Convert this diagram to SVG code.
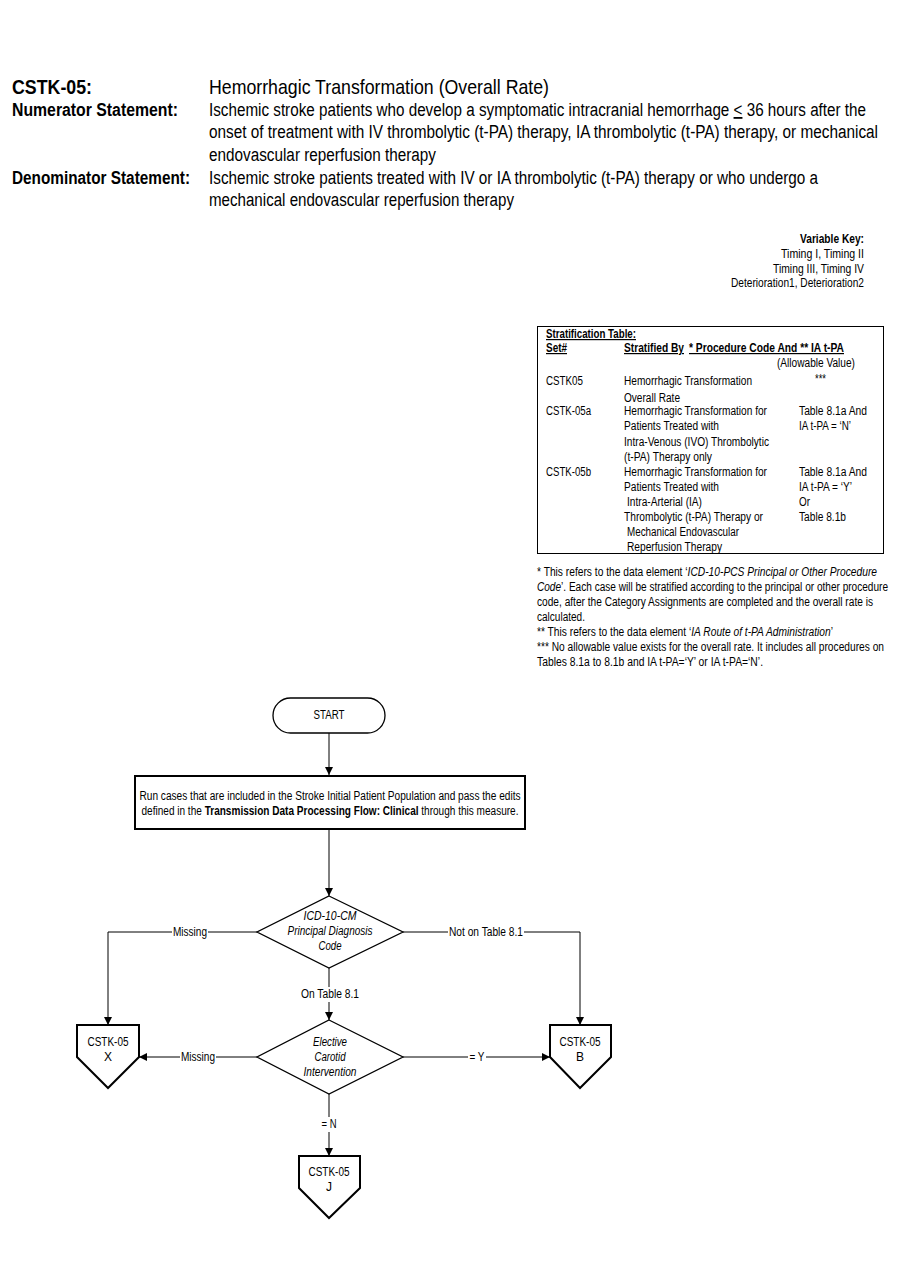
<svg xmlns="http://www.w3.org/2000/svg" width="900" height="1286" viewBox="0 0 900 1286">
<style>
text{font-family:"Liberation Sans",Arial,sans-serif;fill:#000}
.h{font-size:21px}
.hb{font-size:21px;font-weight:bold}
.s{font-size:18px}
.sb{font-size:18px;font-weight:bold}
.k{font-size:12px}
.t{font-size:12px}
.tb{font-size:12px;font-weight:bold;text-decoration:underline}
.f{font-size:12px}
.n{font-size:12px;text-anchor:middle}
.ni{font-size:12px;text-anchor:middle;font-style:italic}
.lbl{font-size:12px;text-anchor:middle}
.shape{fill:#fff;stroke:#000;stroke-width:1.3}
.thick{stroke-width:2}
.con{fill:none;stroke:#000;stroke-width:1}
</style>
<defs>
<marker id="arr" viewBox="0 0 10 10" refX="10" refY="5" markerWidth="8" markerHeight="8" markerUnits="userSpaceOnUse" orient="auto">
<path d="M0,0 L10,5 L0,10 z" fill="#000"/>
</marker>
</defs>
<rect width="900" height="1286" fill="#fff"/>

<g id="header">
<text x="12" y="94" class="hb" textLength="80" lengthAdjust="spacingAndGlyphs">CSTK-05:</text>
<text x="209" y="94" class="h" textLength="340" lengthAdjust="spacingAndGlyphs">Hemorrhagic Transformation (Overall Rate)</text>
<text x="12" y="116" class="sb" textLength="166" lengthAdjust="spacingAndGlyphs">Numerator Statement:</text>
<text x="209" y="116" class="s" textLength="657" lengthAdjust="spacingAndGlyphs">Ischemic stroke patients who develop a symptomatic intracranial hemorrhage <tspan text-decoration="underline">&lt;</tspan> 36 hours after the</text>
<text x="209" y="138" class="s" textLength="669" lengthAdjust="spacingAndGlyphs">onset of treatment with IV thrombolytic (t-PA) therapy, IA thrombolytic (t-PA) therapy, or mechanical</text>
<text x="209" y="161" class="s" textLength="227" lengthAdjust="spacingAndGlyphs">endovascular reperfusion therapy</text>
<text x="12" y="184" class="sb" textLength="178" lengthAdjust="spacingAndGlyphs">Denominator Statement:</text>
<text x="209" y="184" class="s" textLength="609" lengthAdjust="spacingAndGlyphs">Ischemic stroke patients treated with IV or IA thrombolytic (t-PA) therapy or who undergo a</text>
<text x="209" y="206" class="s" textLength="305" lengthAdjust="spacingAndGlyphs">mechanical endovascular reperfusion therapy</text>
</g>

<g id="variable-key" text-anchor="end">
<text x="864" y="243" class="k" font-weight="bold" textLength="64" lengthAdjust="spacingAndGlyphs">Variable Key:</text>
<text x="864" y="258" class="k" textLength="83" lengthAdjust="spacingAndGlyphs">Timing I,  Timing II</text>
<text x="864" y="273" class="k" textLength="91" lengthAdjust="spacingAndGlyphs">Timing III, Timing IV</text>
<text x="864" y="287" class="k" textLength="133" lengthAdjust="spacingAndGlyphs">Deterioration1, Deterioration2</text>
</g>

<g id="stratification-table">
<rect x="537.5" y="326.5" width="346" height="227" fill="#fff" stroke="#000" stroke-width="1"/>
<text x="546" y="338" class="tb" textLength="90" lengthAdjust="spacingAndGlyphs">Stratification Table:</text>
<text x="546" y="352" class="tb" textLength="21" lengthAdjust="spacingAndGlyphs">Set#</text>
<text x="624" y="352" class="tb" textLength="60" lengthAdjust="spacingAndGlyphs">Stratified By</text>
<text x="689" y="352" class="tb" textLength="155" lengthAdjust="spacingAndGlyphs">* Procedure Code And ** IA t-PA</text>
<text x="777" y="367" class="t" textLength="78" lengthAdjust="spacingAndGlyphs">(Allowable Value)</text>
<text x="546" y="385" class="t" textLength="37" lengthAdjust="spacingAndGlyphs">CSTK05</text>
<text x="624" y="385" class="t" textLength="128" lengthAdjust="spacingAndGlyphs">Hemorrhagic Transformation</text>
<text x="815" y="383" class="t" textLength="11" lengthAdjust="spacingAndGlyphs">***</text>
<text x="624" y="402" class="t" textLength="56" lengthAdjust="spacingAndGlyphs">Overall Rate</text>
<text x="546" y="415" class="t" textLength="45" lengthAdjust="spacingAndGlyphs">CSTK-05a</text>
<text x="624" y="415" class="t" textLength="143" lengthAdjust="spacingAndGlyphs">Hemorrhagic Transformation for</text>
<text x="799" y="415" class="t" textLength="68" lengthAdjust="spacingAndGlyphs">Table 8.1a And</text>
<text x="624" y="430" class="t" textLength="95" lengthAdjust="spacingAndGlyphs">Patients Treated with</text>
<text x="799" y="430" class="t" textLength="52" lengthAdjust="spacingAndGlyphs">IA t-PA = ‘N’</text>
<text x="624" y="446" class="t" textLength="145" lengthAdjust="spacingAndGlyphs">Intra-Venous (IVO) Thrombolytic</text>
<text x="624" y="461" class="t" textLength="88" lengthAdjust="spacingAndGlyphs">(t-PA) Therapy only</text>
<text x="546" y="476" class="t" textLength="45" lengthAdjust="spacingAndGlyphs">CSTK-05b</text>
<text x="624" y="476" class="t" textLength="143" lengthAdjust="spacingAndGlyphs">Hemorrhagic Transformation for</text>
<text x="799" y="476" class="t" textLength="68" lengthAdjust="spacingAndGlyphs">Table 8.1a And</text>
<text x="624" y="491" class="t" textLength="95" lengthAdjust="spacingAndGlyphs">Patients Treated with</text>
<text x="799" y="491" class="t" textLength="53" lengthAdjust="spacingAndGlyphs">IA t-PA = ‘Y’</text>
<text x="627" y="506" class="t" textLength="75" lengthAdjust="spacingAndGlyphs">Intra-Arterial (IA)</text>
<text x="799" y="506" class="t" textLength="11" lengthAdjust="spacingAndGlyphs">Or</text>
<text x="624" y="521" class="t" textLength="139" lengthAdjust="spacingAndGlyphs">Thrombolytic (t-PA) Therapy or</text>
<text x="799" y="521" class="t" textLength="47" lengthAdjust="spacingAndGlyphs">Table 8.1b</text>
<text x="627" y="536" class="t" textLength="112" lengthAdjust="spacingAndGlyphs">Mechanical Endovascular</text>
<text x="627" y="551" class="t" textLength="95" lengthAdjust="spacingAndGlyphs">Reperfusion Therapy</text>
</g>

<g id="footnotes">
<text x="537" y="576" class="f" textLength="340" lengthAdjust="spacingAndGlyphs">* This refers to the  data element ‘<tspan font-style="italic">ICD-10-PCS Principal or Other Procedure</tspan></text>
<text x="537" y="591" class="f" textLength="351" lengthAdjust="spacingAndGlyphs"><tspan font-style="italic">Code</tspan>’. Each case will be stratified according to the principal or other procedure</text>
<text x="537" y="606" class="f" textLength="336" lengthAdjust="spacingAndGlyphs">code, after the Category Assignments are completed and the overall rate is</text>
<text x="537" y="621" class="f" textLength="48" lengthAdjust="spacingAndGlyphs">calculated.</text>
<text x="537" y="636" class="f" textLength="296" lengthAdjust="spacingAndGlyphs">** This refers to the data element ‘<tspan font-style="italic">IA Route of t-PA Administration</tspan>’</text>
<text x="537" y="651" class="f" textLength="347" lengthAdjust="spacingAndGlyphs">*** No allowable value exists for the overall rate. It includes all procedures on</text>
<text x="537" y="666" class="f" textLength="226" lengthAdjust="spacingAndGlyphs">Tables 8.1a to 8.1b and IA t-PA=‘Y’ or IA t-PA=‘N’.</text>
</g>

<g id="connectors">
<line class="con" x1="329" y1="733" x2="329" y2="775" marker-end="url(#arr)"/>
<line class="con" x1="329" y1="829" x2="329" y2="896" marker-end="url(#arr)"/>
<polyline class="con" points="257,932 108,932 108,1025" marker-end="url(#arr)"/>
<polyline class="con" points="403,932 580,932 580,1025" marker-end="url(#arr)"/>
<line class="con" x1="329" y1="968" x2="329" y2="1020" marker-end="url(#arr)"/>
<line class="con" x1="257" y1="1057" x2="139" y2="1057" marker-end="url(#arr)"/>
<line class="con" x1="403" y1="1057" x2="550" y2="1057" marker-end="url(#arr)"/>
<line class="con" x1="329" y1="1094" x2="329" y2="1156" marker-end="url(#arr)"/>
<g>
<rect x="172" y="925" width="36" height="14" fill="#fff"/>
<text x="190" y="936" class="lbl" textLength="34" lengthAdjust="spacingAndGlyphs">Missing</text>
<rect x="448" y="925" width="76" height="14" fill="#fff"/>
<text x="486" y="936" class="lbl" textLength="74" lengthAdjust="spacingAndGlyphs">Not on Table 8.1</text>
<rect x="300" y="987" width="60" height="15" fill="#fff"/>
<text x="330" y="998" class="lbl" textLength="58" lengthAdjust="spacingAndGlyphs">On Table 8.1</text>
<rect x="180" y="1050" width="36" height="14" fill="#fff"/>
<text x="198" y="1061" class="lbl" textLength="34" lengthAdjust="spacingAndGlyphs">Missing</text>
<rect x="468" y="1050" width="18" height="14" fill="#fff"/>
<text x="477" y="1061" class="lbl" textLength="15" lengthAdjust="spacingAndGlyphs">= Y</text>
<rect x="320" y="1117" width="18" height="15" fill="#fff"/>
<text x="329" y="1128" class="lbl" textLength="15" lengthAdjust="spacingAndGlyphs">= N</text>
</g>
</g>

<g id="start">
<rect class="shape" x="273" y="698" width="112" height="35" rx="17.5"/>
<text x="329" y="719" class="n" textLength="31" lengthAdjust="spacingAndGlyphs">START</text>
</g>

<g id="run-cases">
<rect class="shape thick" x="135" y="776" width="390" height="53"/>
<text x="330" y="800" class="n" textLength="381" lengthAdjust="spacingAndGlyphs">Run cases that are included in the Stroke Initial Patient Population and pass the edits</text>
<text x="330" y="815" class="n" textLength="377" lengthAdjust="spacingAndGlyphs">defined in the <tspan font-weight="bold">Transmission Data Processing Flow: Clinical</tspan> through this measure.</text>
</g>

<g id="icd10-decision">
<polygon class="shape" points="329,896 403,932 329,968 257,932"/>
<text x="330" y="920" class="ni" textLength="53" lengthAdjust="spacingAndGlyphs">ICD-10-CM</text>
<text x="330" y="935" class="ni" textLength="85" lengthAdjust="spacingAndGlyphs">Principal Diagnosis</text>
<text x="330" y="950" class="ni" textLength="23" lengthAdjust="spacingAndGlyphs">Code</text>
</g>

<g id="carotid-decision">
<polygon class="shape" points="329,1020 403,1057 329,1094 257,1057"/>
<text x="330" y="1046" class="ni" textLength="34" lengthAdjust="spacingAndGlyphs">Elective</text>
<text x="330" y="1061" class="ni" textLength="31" lengthAdjust="spacingAndGlyphs">Carotid</text>
<text x="330" y="1076" class="ni" textLength="53" lengthAdjust="spacingAndGlyphs">Intervention</text>
</g>

<g id="cstk05-x">
<polygon class="shape thick" points="77,1025 139,1025 139,1057 108,1088 77,1057"/>
<text x="108" y="1046" class="n" textLength="41" lengthAdjust="spacingAndGlyphs">CSTK-05</text>
<text x="108" y="1061" class="n">X</text>
</g>

<g id="cstk05-b">
<polygon class="shape thick" points="550,1025 611,1025 611,1057 580,1088 550,1057"/>
<text x="580" y="1046" class="n" textLength="41" lengthAdjust="spacingAndGlyphs">CSTK-05</text>
<text x="580" y="1061" class="n">B</text>
</g>

<g id="cstk05-j">
<polygon class="shape thick" points="299,1156 360,1156 360,1188 329,1218 299,1188"/>
<text x="329" y="1176" class="n" textLength="41" lengthAdjust="spacingAndGlyphs">CSTK-05</text>
<text x="329" y="1191" class="n">J</text>
</g>
</svg>
